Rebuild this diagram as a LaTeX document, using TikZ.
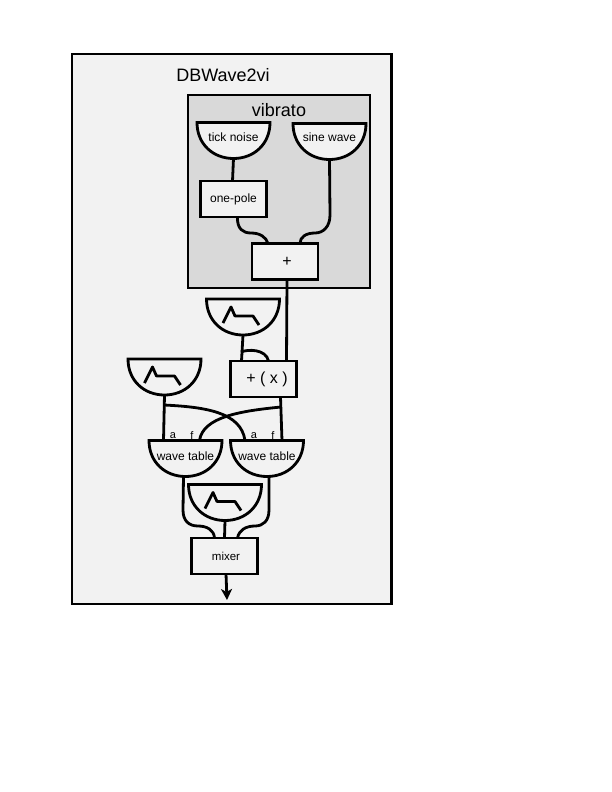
\documentclass[tikz,border=0pt]{standalone}
\usepackage{fontspec}
\setmainfont{Liberation Sans}
\usetikzlibrary{arrows.meta}
\newdimen\hdL \newdimen\hdR \newdimen\hdT \newdimen\hdB \newdimen\hdC \newdimen\hdKx \newdimen\hdKy
\makeatletter
\pgfdeclareshape{halfdisc}{
  \inheritsavedanchors[from=rectangle]
  \inheritanchorborder[from=rectangle]
  \inheritanchor[from=rectangle]{center}
  \inheritanchor[from=rectangle]{north}
  \inheritanchor[from=rectangle]{south}
  \inheritanchor[from=rectangle]{east}
  \inheritanchor[from=rectangle]{west}
  \inheritanchor[from=rectangle]{north west}
  \inheritanchor[from=rectangle]{north east}
  \inheritanchor[from=rectangle]{south west}
  \inheritanchor[from=rectangle]{south east}
  \backgroundpath{
    \southwest \hdL=\pgf@x \hdB=\pgf@y
    \northeast \hdR=\pgf@x \hdT=\pgf@y
    \hdC=\dimexpr(\hdL+\hdR)/2\relax
    \hdKx=\dimexpr(\hdR-\hdL)*28/100\relax
    \hdKy=\dimexpr(\hdT-\hdB)*60/100\relax
    \pgfpathmoveto{\pgfqpoint{\hdL}{\hdT}}
    \pgfpathlineto{\pgfqpoint{\hdR}{\hdT}}
    \pgfpathcurveto{\pgfqpoint{\hdR}{\dimexpr\hdT-\hdKy\relax}}
      {\pgfqpoint{\dimexpr\hdC+\hdKx\relax}{\hdB}}
      {\pgfqpoint{\hdC}{\hdB}}
    \pgfpathcurveto{\pgfqpoint{\dimexpr\hdC-\hdKx\relax}{\hdB}}
      {\pgfqpoint{\hdL}{\dimexpr\hdT-\hdKy\relax}}
      {\pgfqpoint{\hdL}{\hdT}}
    \pgfpathclose
  }
}
\makeatother
\definecolor{outerfill}{HTML}{F2F2F2}
\definecolor{innerfill}{HTML}{D9D9D9}
\tikzset{
  x=1pt,y=-1pt,
  wire/.style={line width=2.8pt,line join=round},
  unitbox/.style={draw,line width=2.8pt,fill=outerfill,rectangle,inner sep=0pt,outer sep=0pt,minimum width=66pt,minimum height=36pt,font=\fontsize{12}{14}\selectfont},
  env/.style={draw,line width=2.8pt,fill=outerfill,shape=halfdisc,inner sep=0pt,outer sep=0pt,minimum width=73pt,minimum height=36pt,font=\fontsize{12}{14}\selectfont},
  port/.style={inner sep=0pt,font=\fontsize{11}{12}\selectfont},
  title/.style={inner sep=0pt,font=\fontsize{18}{20}\selectfont},
}
\begin{document}
\begin{tikzpicture}
\useasboundingbox (0,0) rectangle (612,792);
\path[fill=white] (0,0) rectangle (612,792);
\draw[line width=2.8pt,fill=outerfill] (72,54) rectangle (391.5,604);
\draw[line width=2.8pt,fill=innerfill] (188,95) rectangle (370,288);
\node[title] (main) at (223,75) {DBWave2vi};
\node[title] (vib) at (279,110) {vibrato};

\node[env] (tick) at (233.5,140.5) {\raisebox{7pt}{tick noise}};
\node[env] (sine) at (329.5,141.5) {\raisebox{8pt}{sine wave}};
\node[unitbox] (pole) at (233.5,199) {\raisebox{-1pt}{one-pole}};
\node[unitbox,font=\fontsize{16}{18}\selectfont] (plus) at (285,261.5) {\hspace{4pt}\raisebox{-1pt}{+}};
\node[unitbox,font=\fontsize{16}{18}\selectfont] (addx) at (263.5,379) {\hspace{7pt}\raisebox{-2pt}{+ ( x )}};
\node[env] (e1) at (243,317) {};
\node[env] (e2) at (164.5,377) {};
\node[env] (wt1) at (185.5,458.5) {\raisebox{5pt}{wave table}};
\node[env] (wt2) at (267,458.5) {\raisebox{5pt}{wave table}};
\node[env] (e3) at (225,502.5) {};
\node[unitbox,font=\fontsize{11.5}{14}\selectfont] (mix) at (224.5,556) {\hspace{3pt}\raisebox{-1pt}{mixer}};
\coordinate (out) at (227,600);

\node[port] (a1) at (173,436) {a};
\node[port] (f1) at (192,436) {f};
\node[port] (a2) at (254,436) {a};
\node[port] (f2) at (273,436) {f};

% envelope glyphs
\foreach \n in {e1,e2,e3}
  \draw[wire,shift={(\n.north west)}] (16.5,24) -- (24.5,8) -- (28.5,17) -- (46.5,17) -- (52.5,26);

\draw[wire] (tick.south) -- ([xshift=-1pt]pole.north);
\draw[wire] ([xshift=4pt]pole.south) .. controls (237,229) and (243,233) .. (251,233)
   .. controls (260,233) and (266,237) .. ([xshift=16pt]plus.north west);
\draw[wire] (sine.south) -- (330,215) .. controls (330,227) and (323,233) .. (315,233)
   .. controls (306,233) and (300,237) .. ([xshift=-18pt]plus.north east);

\draw[wire] ([xshift=2pt]plus.south) -- ([xshift=-10pt]addx.north east);
\draw[wire] (e1.south) -- ([xshift=11pt]addx.north west);
\coordinate (tap1) at (241,352);
\draw[wire] (tap1) .. controls (248,349) and (266,349) .. ([xshift=38pt]addx.north west);

\coordinate (tap2) at (164,405);
\coordinate (tap3) at (281,407);
\draw[wire] (e2.south) -- ([xshift=-22pt]wt1.north);
\draw[wire] (tap2) .. controls (205,407) and (241,412) .. ([xshift=-22pt]wt2.north);
\draw[wire] ([xshift=17pt]addx.south) -- ([xshift=15pt]wt2.north);
\draw[wire] (tap3) .. controls (240,411) and (203,417) .. ([xshift=14pt]wt1.north);

\draw[wire] ([xshift=-2pt]wt1.south) -- (183,510) .. controls (183,521) and (189,526) .. (198,526)
   .. controls (207,526) and (214,530) .. ([xshift=23pt]mix.north west);
\draw[wire] ([xshift=2pt]wt2.south) -- (269,510) .. controls (269,521) and (263,526) .. (255,526)
   .. controls (246,526) and (239,530) .. ([xshift=-20pt]mix.north east);
\draw[wire] (e3.south) -- (mix.north);
\draw[wire,-{Stealth[length=11pt,width=11pt,inset=3pt]}] ([xshift=1.5pt]mix.south) -- (out);
\end{tikzpicture}
\end{document}
